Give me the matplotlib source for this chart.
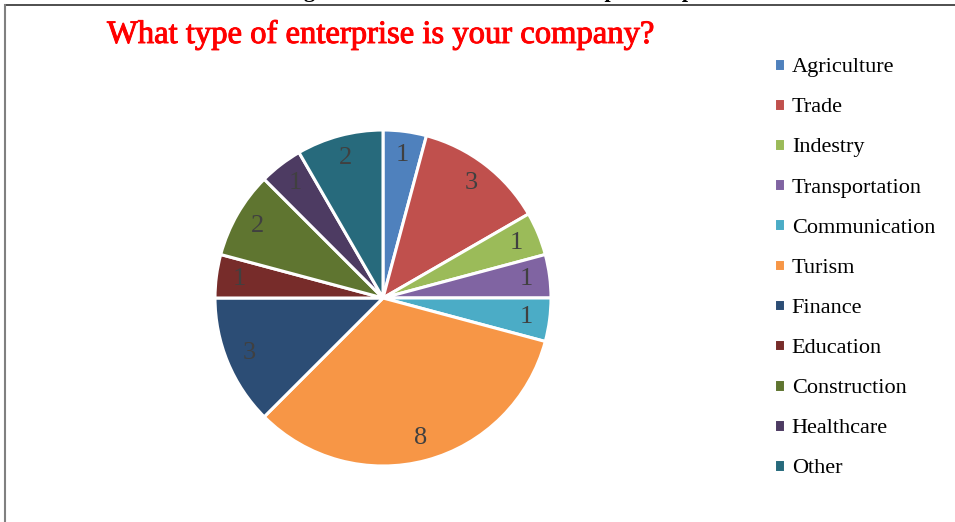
import matplotlib
matplotlib.use("Agg")
import matplotlib.pyplot as plt
import matplotlib.patheffects as pe
from matplotlib.lines import Line2D

# data
categories = ["Agriculture", "Trade", "Indestry", "Transportation", "Communication",
              "Turism", "Finance", "Education", "Construction", "Healthcare", "Other"]
counts = [1, 3, 1, 1, 1, 8, 3, 1, 2, 1, 2]
colors = ["#4F81BD", "#C0504D", "#9BBB59", "#8064A2", "#4BACC6", "#F79646",
          "#2C4D75", "#772C2A", "#5F7530", "#4D3B62", "#276A7C"]

W, H = 955, 522
fig = plt.figure(figsize=(W / 100, H / 100), dpi=100)
serif = "Liberation Serif"

# frame lines (top and left)
fig.add_artist(Line2D([5 / W, 1], [1 - 5 / H, 1 - 5 / H], transform=fig.transFigure,
                      color="#404040", lw=1.3))
fig.add_artist(Line2D([5 / W, 5 / W], [0, 1 - 5 / H], transform=fig.transFigure,
                      color="#808080", lw=1.5))

# caption above the box, only its descenders show
fig.text(513 / W, 1 + 3 / H, "Figure 6: Sector in which the companies operate",
         ha="center", va="baseline", fontsize=16, fontweight="bold", family=serif,
         color="black")

# title (regular weight thickened a little to look like the heavier original face)
fig.text(107 / W, 1 - 43 / H, "What type of enterprise is your company?",
         ha="left", va="baseline", fontsize=23.5, family=serif, color="red",
         path_effects=[pe.withStroke(linewidth=0.7, foreground="red")])

# pie
cx, cy, r = 383, 298, 168
ax = fig.add_axes([(cx - r) / W, (H - cy - r) / H, 2 * r / W, 2 * r / H])
total = sum(counts)
wedges, texts, autotexts = ax.pie(
    counts, colors=colors, startangle=90, counterclock=False,
    autopct=lambda p: "%d" % round(p * total / 100), pctdistance=0.86,
    wedgeprops=dict(edgecolor="white", linewidth=2.2),
    textprops=dict(fontsize=19, family=serif, color="#404040"))
ax.set_xlim(-1, 1)
ax.set_ylim(-1, 1)
ax.set_aspect("equal")

# legend
fig.legend(wedges, categories, loc="upper left",
           bbox_to_anchor=(774 / W, 1 - 58 / H), frameon=False,
           prop=dict(family=serif, size=16), handlelength=0.5, handleheight=0.5,
           handletextpad=0.3, labelspacing=0.94, borderaxespad=0, borderpad=0)

fig.savefig("out.png", dpi=100)
